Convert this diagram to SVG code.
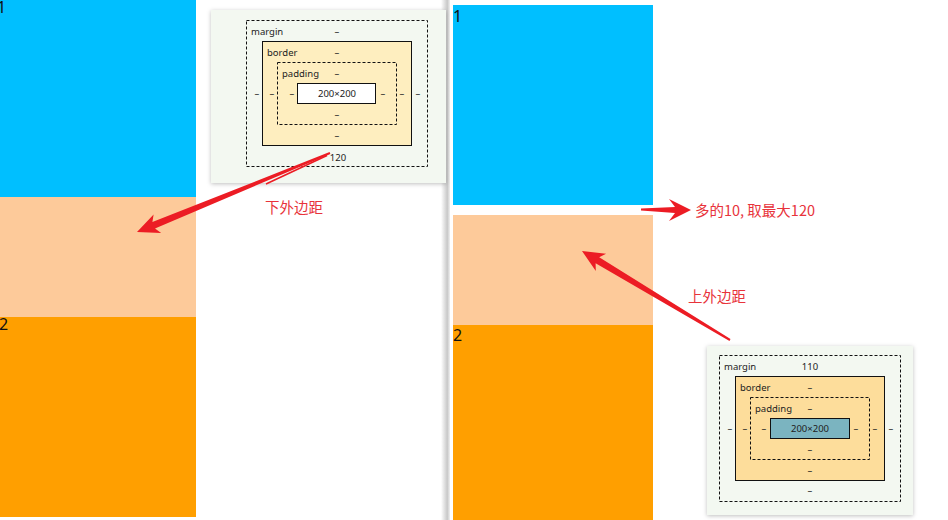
<svg xmlns="http://www.w3.org/2000/svg" width="948" height="520" viewBox="0 0 948 520">
<defs>
<style>
.num{font-family:"Noto Sans","DejaVu Sans",sans-serif;font-size:16px;fill:#111}
.t{font-family:"Noto Sans","Liberation Sans",sans-serif;font-size:9.5px;fill:#222}
.c{text-anchor:middle}
.zh{font-family:"Noto Sans CJK SC","Noto Sans",sans-serif;font-size:14.5px;fill:#e8333b}
.dash{fill:none;stroke:#111;stroke-width:1;stroke-dasharray:3,2}
.solid{stroke:#111;stroke-width:1}
.arrow{fill:#ec1c24}
</style>
<linearGradient id="div" x1="0" x2="1" y1="0" y2="0">
<stop offset="0" stop-color="#ffffff"/>
<stop offset="0.7" stop-color="#c8c8c8"/>
<stop offset="1" stop-color="#f0f0f0"/>
</linearGradient>
<filter id="sh" x="-10%" y="-10%" width="120%" height="120%">
<feDropShadow dx="0" dy="1" stdDeviation="2" flood-color="#000" flood-opacity="0.25"/>
</filter>
</defs>
<rect width="948" height="520" fill="#fff"/>

<g id="left-boxes">
<rect x="0" y="0" width="196" height="197" fill="#00bfff"/>
<rect x="0" y="197" width="196" height="120" fill="#fdca9a"/>
<rect x="0" y="317" width="196" height="200" fill="#ff9f00"/>
<text class="num" x="-3" y="13">1</text>
<text class="num" x="-1" y="330">2</text>
</g>

<rect id="divider" x="441" y="0" width="9" height="520" fill="url(#div)"/>

<g id="right-boxes">
<rect x="453" y="5" width="200" height="200" fill="#00bfff"/>
<rect x="453" y="215" width="200" height="110" fill="#fdca9a"/>
<rect x="453" y="325" width="200" height="195" fill="#ff9f00"/>
<text class="num" x="453" y="22">1</text>
<text class="num" x="453" y="341">2</text>
</g>

<g id="panel-bottom-margin">
<rect x="211" y="10" width="235" height="173" fill="#f3f8f1" filter="url(#sh)"/>
<rect class="dash" x="246.5" y="20.5" width="181" height="146"/>
<rect class="solid" x="262.5" y="41.5" width="149" height="104" fill="#feeebf"/>
<rect class="dash" x="277.5" y="62.5" width="119" height="62" fill="#f3f8f1"/>
<rect class="solid" x="297.5" y="83.5" width="78" height="20" fill="#fff"/>
<text class="t" x="251" y="35">margin</text>
<text class="t c" x="337" y="35">–</text>
<text class="t" x="267" y="56">border</text>
<text class="t c" x="337" y="56">–</text>
<text class="t" x="282" y="77">padding</text>
<text class="t c" x="337" y="77">–</text>
<text class="t c" x="337" y="97">200×200</text>
<text class="t c" x="257" y="97">–</text>
<text class="t c" x="272" y="97">–</text>
<text class="t c" x="292" y="97">–</text>
<text class="t c" x="383" y="97">–</text>
<text class="t c" x="402" y="97">–</text>
<text class="t c" x="418" y="97">–</text>
<text class="t c" x="337" y="118">–</text>
<text class="t c" x="337" y="139">–</text>
<text class="t c" x="338" y="161">120</text>
</g>

<g id="panel-top-margin">
<rect x="707" y="346" width="206" height="169" fill="#f3f8f1" filter="url(#sh)"/>
<rect class="dash" x="719.5" y="355.5" width="181" height="146" fill="#fdca9a"/>
<rect class="solid" x="735.5" y="376.5" width="149" height="104" fill="#fddd9b"/>
<rect class="dash" x="750.5" y="397.5" width="119" height="62" fill="#bbcf8d"/>
<rect class="solid" x="770.5" y="418.5" width="79" height="20" fill="#7bb4c0"/>
<text class="t" x="724" y="370">margin</text>
<text class="t c" x="810" y="370">110</text>
<text class="t" x="740" y="391">border</text>
<text class="t c" x="810" y="391">–</text>
<text class="t" x="755" y="412">padding</text>
<text class="t c" x="810" y="412">–</text>
<text class="t c" x="810" y="432">200×200</text>
<text class="t c" x="730" y="432">–</text>
<text class="t c" x="745" y="432">–</text>
<text class="t c" x="764" y="432">–</text>
<text class="t c" x="856" y="432">–</text>
<text class="t c" x="875" y="432">–</text>
<text class="t c" x="891" y="432">–</text>
<text class="t c" x="810" y="453">–</text>
<text class="t c" x="810" y="474">–</text>
<text class="t c" x="810" y="494">–</text>
</g>

<g id="connectors">
<path class="arrow" d="M137,232 L153.6,214.4 L152.4,222.0 L329.6,152.1 L330.4,153.9 L155.0,228.4 L161.2,233.0 Z"/>
<path d="M327,155.5 L266,184" stroke="#ec1c24" stroke-width="1.6" fill="none"/>
<path class="arrow" d="M691,210 L669,199 L675,207 L641,208.5 L641,210.5 L675,213 L669,221 Z"/>
<path class="arrow" d="M582,251 L606.1,253.7 L599.2,257.3 L730.5,339.1 L729.5,340.9 L595.6,263.3 L595.8,270.9 Z"/>
</g>

<g id="labels">
<text class="zh" x="265" y="213">下外边距</text>
<text class="zh" x="695" y="216">多的10, 取最大120</text>
<text class="zh" x="688" y="302">上外边距</text>
</g>
</svg>
